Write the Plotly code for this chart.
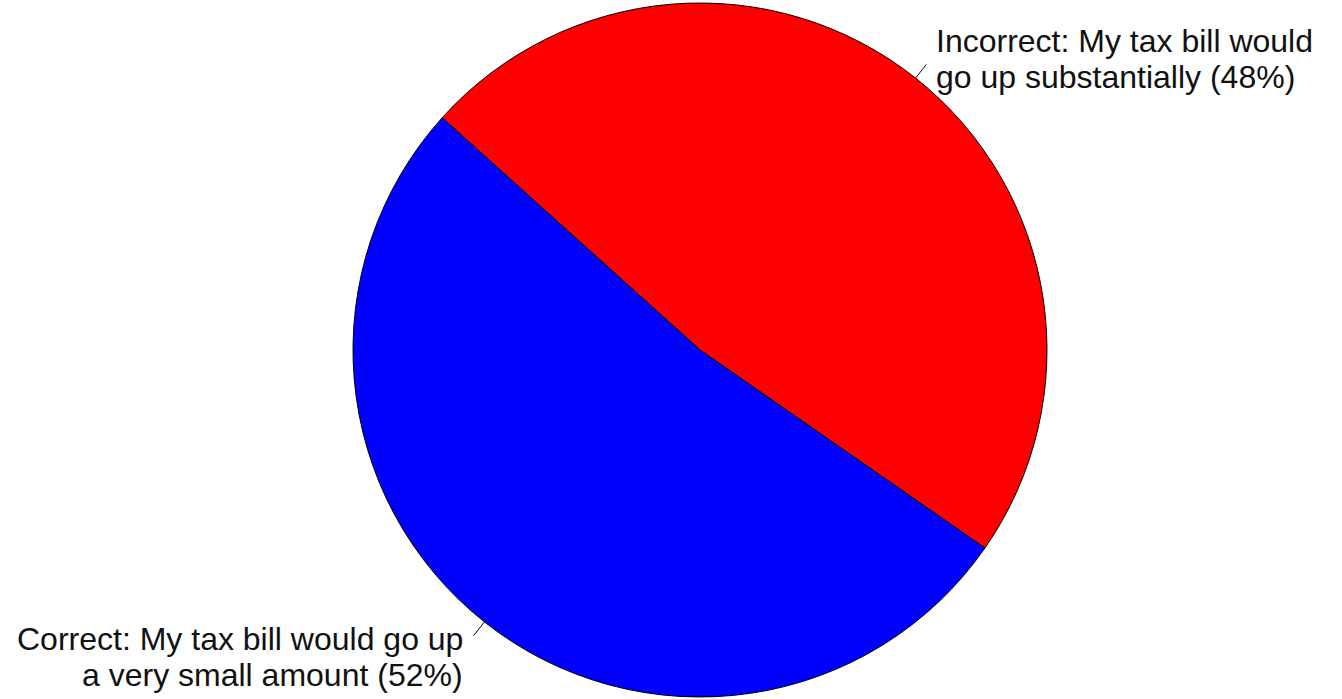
import math
import plotly.graph_objects as go

labels = ["Incorrect: My tax bill would<br>go up substantially (48%)",
          "Correct: My tax bill would go up<br>a very small amount (52%)"]
values = [48, 52]
colors = ["#FF0000", "#0000FF"]

W, H = 1342, 699
cx, cy, r = 700, 350, 347
rotation = -48  # degrees, first slice starts 48 deg counter-clockwise from 12 o'clock
FONT = dict(family="Liberation Sans, Arial, sans-serif", size=32, color="#111111")
LINE_GAP = 36

fig = go.Figure(go.Pie(
    labels=labels, values=values, sort=False, direction="clockwise",
    rotation=rotation, textinfo="none", hoverinfo="label",
    marker=dict(colors=colors, line=dict(color="black", width=1)),
    domain=dict(x=[(cx - r) / W, (cx + r) / W], y=[(H - cy - r) / H, (H - cy + r) / H]),
    showlegend=False,
))

total = sum(values)
start = 90 - rotation  # math angle in degrees
shapes, annotations = [], []
cum = 0
for lab, v in zip(labels, values):
    mid = start - (cum + v / 2) / total * 360
    cum += v
    a = math.radians(mid)
    x1, y1 = cx + r * math.cos(a), cy - r * math.sin(a)
    x2, y2 = cx + 1.05 * r * math.cos(a), cy - 1.05 * r * math.sin(a)
    xt, yt = cx + 1.1 * r * math.cos(a), cy - 1.1 * r * math.sin(a)
    shapes.append(dict(type="line", xref="paper", yref="paper",
                       x0=x1 / W, y0=1 - y1 / H, x1=x2 / W, y1=1 - y2 / H,
                       line=dict(color="black", width=1)))
    right = math.cos(a) > 0
    xpix = xt - 3 if right else xt + 2
    for i, line in enumerate(lab.split("<br>")):
        ymid = yt - 10 + i * LINE_GAP
        annotations.append(dict(text=line, xref="paper", yref="paper",
                                x=xpix / W, y=1 - ymid / H, showarrow=False,
                                xanchor="left" if right else "right", yanchor="middle",
                                font=FONT))

fig.update_layout(width=W, height=H, margin=dict(l=0, r=0, t=0, b=0),
                  paper_bgcolor="white", plot_bgcolor="white",
                  shapes=shapes, annotations=annotations)
fig.write_html("out.html")
